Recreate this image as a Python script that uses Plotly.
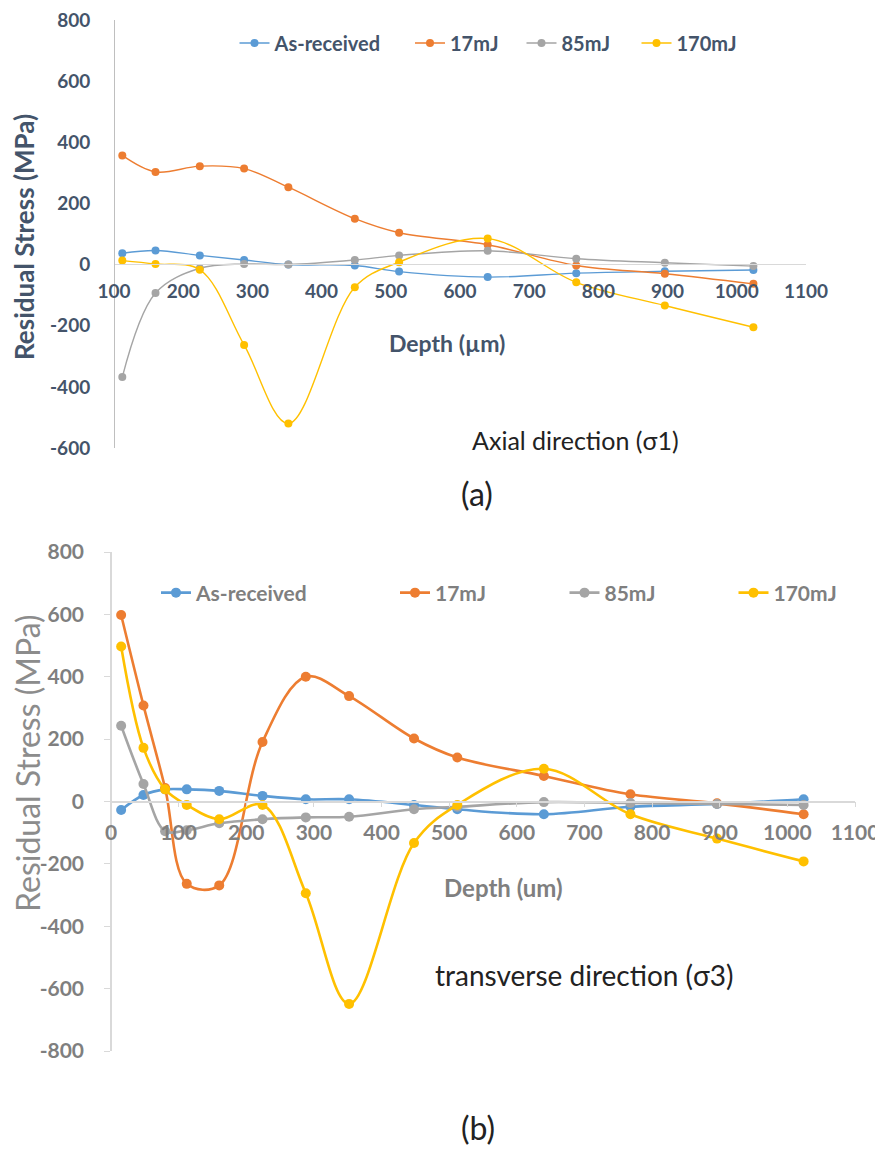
import plotly.graph_objects as go

# The page body has an 8 px margin, so the figure is drawn from (8, 8).
PAGE_W, PAGE_H = 883, 1151
OFF = 8
W, H = PAGE_W - OFF, PAGE_H - OFF


def fx(px):
    return (px - OFF) / W


def fy(py):
    return 1 - (py - OFF) / H


# ---------------- data ----------------
series_names = ["As-received", "17mJ", "85mJ", "170mJ"]
series_colors = ["#5B9BD5", "#ED7D31", "#A5A5A5", "#FFC000"]

# (a) Axial direction (sigma 1)
depth_axial = [112, 160, 224, 288, 352, 448, 512, 640, 768, 896, 1024]
axial_as_received = [37, 46, 30, 15, 0, -3, -23, -41, -28, -22, -18]
axial_17mJ = [357, 303, 322, 314, 253, 150, 104, 65, -3, -30, -63]
axial_85mJ = [-368, -93, -12, 2, 0, 15, 30, 45, 19, 6, -5]
axial_170mJ = [13, 2, -17, -263, -520, -74, 8, 85, -58, -134, -205]

# (b) Transverse direction (sigma 3)
depth_transverse = [15, 48, 80, 112, 160, 224, 288, 352, 448, 512, 640, 768, 896, 1024]
trans_as_received = [-27, 21, 39, 39, 34, 18, 7, 7, -11, -25, -41, -17, -8, 7]
trans_17mJ = [598, 308, 43, -264, -269, 191, 400, 338, 202, 141, 82, 23, -6, -41]
trans_85mJ = [243, 56, -95, -92, -70, -57, -51, -49, -25, -17, -2, -5, -8, -11]
trans_170mJ = [497, 172, 39, -11, -57, -11, -294, -649, -133, -11, 105, -41, -119, -192]

axial_x_ticks = [100, 200, 300, 400, 500, 600, 700, 800, 900, 1000, 1100]
axial_y_ticks = [-600, -400, -200, 0, 200, 400, 600, 800]
trans_x_ticks = [0, 100, 200, 300, 400, 500, 600, 700, 800, 900, 1000, 1100]
trans_y_ticks = [-800, -600, -400, -200, 0, 200, 400, 600, 800]

axial_series = [axial_as_received, axial_17mJ, axial_85mJ, axial_170mJ]
trans_series = [trans_as_received, trans_17mJ, trans_85mJ, trans_170mJ]

# ---------------- style ----------------
FONT = "Lato, 'Open Sans', 'DejaVu Sans', sans-serif"
TOP_TXT = "#44546A"
BOT_TXT = "#7F7F7F"


def labels(vals):
    return [str(v) for v in vals]  # plain hyphen minus, as in the original


fig = go.Figure()

# legend marker / text-start pixel positions (page pixels)
top_legend_marker = [253, 430, 540, 655]
top_legend_text = [277, 451, 564, 679]
bot_legend_marker = [173, 413, 582, 750]
bot_legend_text = [200, 438, 608, 778]

for i, (name, color, vals) in enumerate(zip(series_names, series_colors, axial_series)):
    fig.add_trace(go.Scatter(
        x=depth_axial, y=vals, name=name, mode="lines+markers",
        line=dict(color=color, width=1.4, shape="spline", smoothing=1.0),
        marker=dict(color=color, size=8),
        xaxis="x", yaxis="y", showlegend=True,
        legend="legend" if i == 0 else f"legend{i + 1}",
    ))

for i, (name, color, vals) in enumerate(zip(series_names, series_colors, trans_series)):
    fig.add_trace(go.Scatter(
        x=depth_transverse, y=vals, name=name, mode="lines+markers",
        line=dict(color=color, width=2.6, shape="spline", smoothing=1.0),
        marker=dict(color=color, size=10),
        xaxis="x2", yaxis="y2", showlegend=True,
        legend=f"legend{i + 5}",
    ))

# geometry (page pixels)
top_x0, top_x1 = 114, 806          # x = 100 .. 1100
top_y_top, top_y_bot = 20, 448     # y = 800 .. -600
top_zero = 264
bot_x0, bot_x1 = 111, 855          # x = 0 .. 1100
bot_y_top, bot_y_bot = 552, 1051   # y = 800 .. -800
bot_zero = 801.5

layout = dict(
    width=W, height=H,
    margin=dict(l=0, r=0, t=0, b=0, autoexpand=False),
    paper_bgcolor="white", plot_bgcolor="white",
    showlegend=True,
    font=dict(family=FONT),
    xaxis=dict(
        domain=[fx(top_x0), fx(top_x1)], range=[100, 1100],
        anchor="free", position=fy(top_zero),
        tickvals=axial_x_ticks, ticktext=labels(axial_x_ticks),
        showgrid=False, zeroline=False, automargin=False,
        showline=True, linecolor="#D9D9D9", linewidth=1, ticks="",
        ticklabelstandoff=10, ticklabeloverflow="allow",
        tickfont=dict(size=19, color=TOP_TXT, weight="bold"),
    ),
    yaxis=dict(
        domain=[fy(top_y_bot), fy(top_y_top)], range=[-600, 800],
        anchor="free", position=fx(top_x0),
        tickvals=axial_y_ticks, ticktext=labels(axial_y_ticks),
        showgrid=False, zeroline=False, automargin=False,
        showline=True, linecolor="#BFBFBF", linewidth=1, ticks="",
        ticklabelstandoff=20, ticklabeloverflow="allow",
        tickfont=dict(size=19, color=TOP_TXT, weight="bold"),
    ),
    xaxis2=dict(
        domain=[fx(bot_x0), fx(bot_x1)], range=[0, 1100],
        anchor="free", position=fy(bot_zero),
        tickvals=trans_x_ticks, ticktext=labels(trans_x_ticks),
        showgrid=False, zeroline=False, automargin=False,
        showline=True, linecolor="#D9D9D9", linewidth=1.5,
        ticks="outside", ticklen=5, tickcolor="#D9D9D9",
        ticklabelstandoff=8, ticklabeloverflow="allow",
        tickfont=dict(size=21, color=BOT_TXT, weight="bold"),
    ),
    yaxis2=dict(
        domain=[fy(bot_y_bot), fy(bot_y_top)], range=[-800, 800],
        anchor="free", position=fx(bot_x0),
        tickvals=trans_y_ticks, ticktext=labels(trans_y_ticks),
        showgrid=False, zeroline=False, automargin=False,
        showline=True, linecolor="#D9D9D9", linewidth=1.5,
        ticks="outside", ticklen=6, tickcolor="#D9D9D9",
        ticklabelstandoff=16, ticklabeloverflow="allow",
        tickfont=dict(size=21, color=BOT_TXT, weight="bold"),
    ),
)

for i in range(4):
    key = "legend" if i == 0 else f"legend{i + 1}"
    lx = (top_legend_marker[i] + top_legend_text[i]) / 2 - 30.5
    layout[key] = dict(
        orientation="h", x=fx(lx), y=fy(43),
        xanchor="left", yanchor="middle", bgcolor="rgba(0,0,0,0)",
        font=dict(size=20, color=TOP_TXT, weight="bold"),
    )
for i in range(4):
    lx = (bot_legend_marker[i] + bot_legend_text[i]) / 2 - 30.5
    layout[f"legend{i + 5}"] = dict(
        orientation="h", x=fx(lx), y=fy(593),
        xanchor="left", yanchor="middle", bgcolor="rgba(0,0,0,0)",
        font=dict(size=21, color=BOT_TXT, weight="bold"),
    )

fig.update_layout(**layout)

annotations = [
    dict(text="Residual Stress (MPa)", x=fx(24), y=fy(237), textangle=-90,
         font=dict(size=26, color=TOP_TXT, weight="bold")),
    dict(text="Depth (µm)", x=fx(447), y=fy(343),
         font=dict(size=23, color=TOP_TXT, weight="bold")),
    dict(text="Axial direction (σ1)", x=fx(575), y=fy(440),
         font=dict(size=25, color="#222222")),
    dict(text="(a)", x=fx(477), y=fy(493),
         font=dict(size=32, color="#222222")),
    dict(text="Residual Stress (MPa)", x=fx(27), y=fy(763), textangle=-90,
         font=dict(size=32, color="#8C8C8C")),
    dict(text="Depth (um)", x=fx(503), y=fy(887),
         font=dict(size=24, color=BOT_TXT, weight="bold")),
    dict(text="transverse direction (σ3)", x=fx(584), y=fy(975),
         font=dict(size=28, color="#222222")),
    dict(text="(b)", x=fx(478), y=fy(1127),
         font=dict(size=32, color="#222222")),
]
for a in annotations:
    a.update(xref="paper", yref="paper", showarrow=False,
             xanchor="center", yanchor="middle")
fig.update_layout(annotations=annotations)

fig.write_html("out.html")
